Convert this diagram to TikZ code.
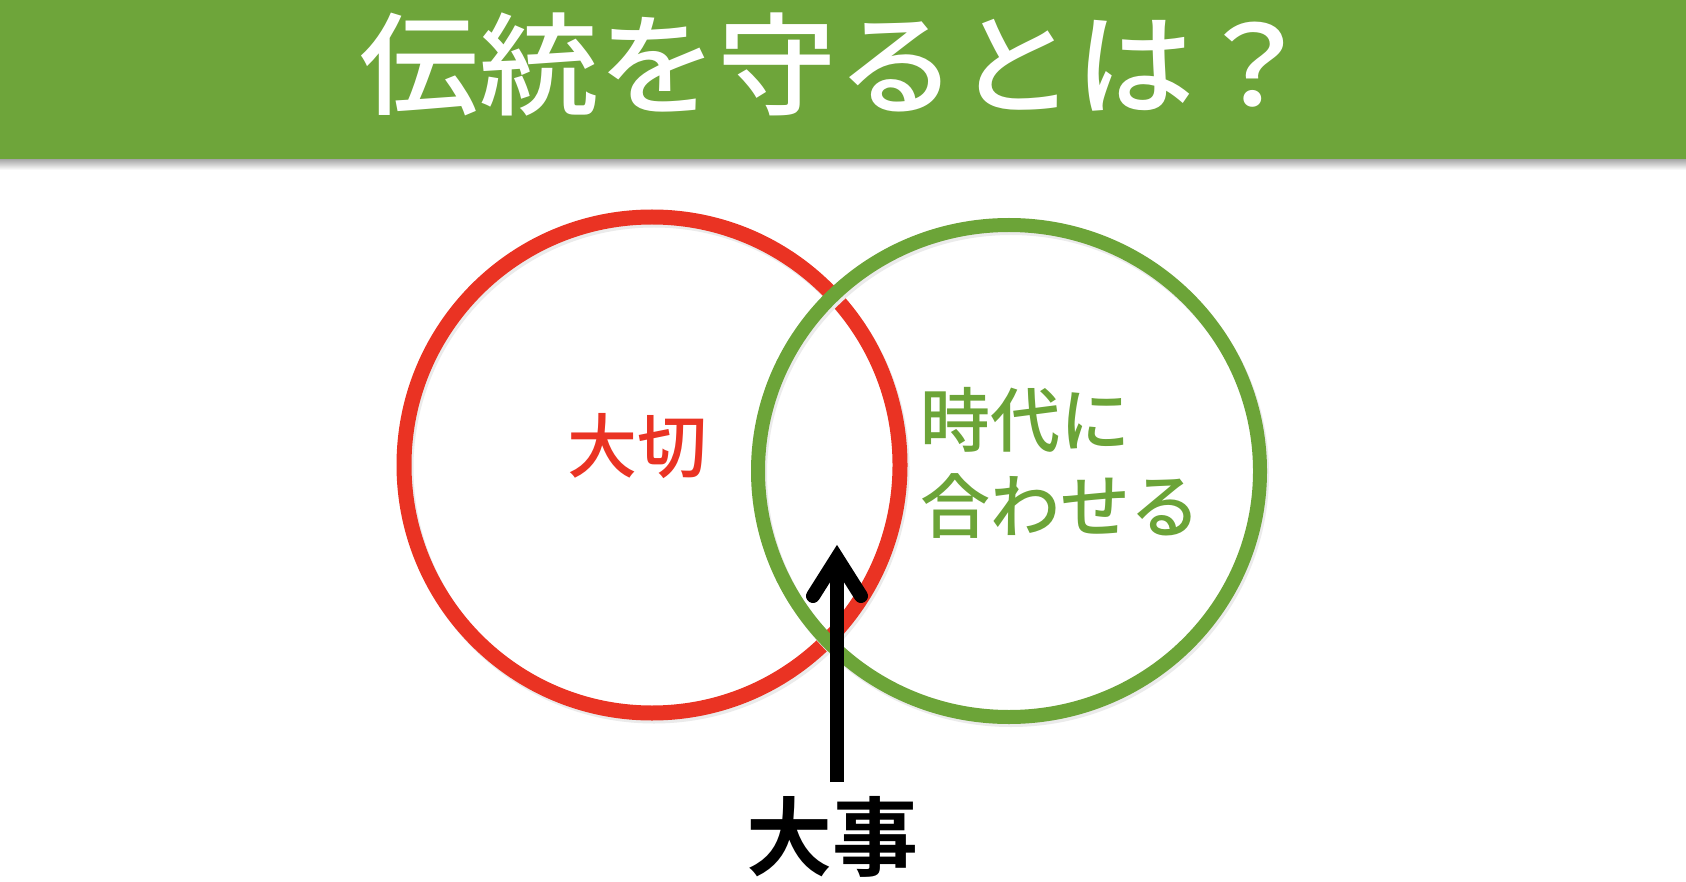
\documentclass[tikz,border=0pt]{standalone}
\usepackage{fontspec}
\newfontfamily\jpfont{Noto Sans CJK JP Medium}
\newfontfamily\jpbold{Noto Sans CJK JP Bold}
\usetikzlibrary{shapes.geometric,calc}
\definecolor{bannergreen}{RGB}{110,165,58}
\definecolor{ringgreen}{RGB}{108,164,56}
\definecolor{ringred}{RGB}{234,51,35}
\tikzset{
  titletext/.style={text=white, font=\jpfont\fontsize{111}{111}\selectfont, inner sep=0pt, xscale=1.075},
  redlabel/.style={text=ringred, font=\jpfont\fontsize{70}{70}\selectfont, inner sep=0pt},
  greenlabel/.style={text=ringgreen, font=\jpfont\fontsize{70}{86}\selectfont, inner sep=0pt, align=left},
  bottomlabel/.style={text=black, font=\jpbold\fontsize{86}{86}\selectfont, inner sep=0pt},
  redring/.style={draw=ringred, line width=15pt},
  greenring/.style={draw=ringgreen, line width=14pt},
  arrowline/.style={draw=black, line width=14pt},
  arrowhead/.style={draw=black, line width=14pt, line cap=round, line join=miter}
}
\begin{document}
\begin{tikzpicture}[x=1pt,y=-1pt]
\useasboundingbox (0,0) rectangle (1686,882);
\fill[white] (0,0) rectangle (1686,882);
% banner shadow
\shade[top color=black!35, bottom color=white] (0,159) rectangle (1686,170);
\fill[bannergreen] (0,0) rectangle (1686,159);
\node[titletext] (title) at (837,64) {伝統を守るとは？};
% circles
\coordinate (redc) at (652,465);
\coordinate (greenc) at (1009,471);
\draw[black!8, line width=15pt] ($(redc)+(2,3)$) circle[radius=248];
\draw[redring] (redc) circle[radius=248];
\draw[black!8, line width=14pt] ($(greenc)+(2,3)$) ellipse[x radius=251, y radius=246];
\draw[greenring] (greenc) ellipse[x radius=251, y radius=246];
% labels
\node[redlabel] (taisetsu) at (637,446) {大切};
\node[greenlabel, anchor=west] (jidai) at (920,463) {時代に\\合わせる};
\node[bottomlabel] (daiji) at (832,837) {大事};
% arrow
\coordinate (tail) at (837,782);
\coordinate (tip) at (837,558);
\draw[arrowline] (tail) -- (tip);
\draw[arrowhead] ($(tip)+(-24,38)$) -- (tip) -- ($(tip)+(24,38)$);
\end{tikzpicture}
\end{document}
